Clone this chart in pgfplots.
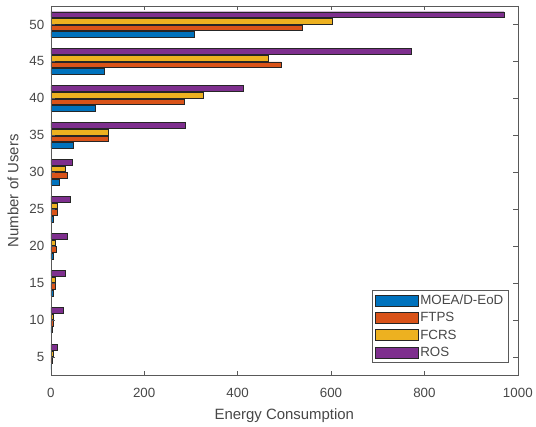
\documentclass[border=0pt]{standalone}
\usepackage{pgfplots}
\pgfplotsset{compat=1.18}
\usepackage{fontspec}
\setmainfont{Liberation Sans}

\definecolor{mblue}{rgb}{0,0.447,0.741}
\definecolor{morange}{rgb}{0.85,0.325,0.098}
\definecolor{myellow}{rgb}{0.929,0.694,0.125}
\definecolor{mpurple}{rgb}{0.494,0.184,0.556}
\definecolor{textgray}{gray}{0.28}
\definecolor{axisgray}{gray}{0.35}

% energy consumption per number of users
\pgfplotstableread{
users moea ftps fcrs ros
5     2    4    4.5  14
10    3    5    5    27
15    6    9    9    32
20    6    12   10   36
25    6    14   13   42
30    19   36   32   46
35    48   124  124  287
40    95   286  327  413
45    114  493  466  771
50    307  539  602  970
}\energy

\pgfplotsset{
  boxlegend/.style={legend image code/.code={%
    \draw[##1,draw=black!85,line width=0.5pt] (0pt,-5.5pt) rectangle (43pt,5.5pt);}},
}

\begin{document}
\begin{tikzpicture}
\begin{axis}[
  scale only axis, width=469pt, height=371pt,
  xbar, bar width=5.6pt,
  xmin=0, xmax=1000, ymin=2.5, ymax=52.5,
  xtick={0,200,...,1000}, ytick={5,10,...,50},
  tick align=inside, major tick length=4.5pt,
  axis line style={draw=axisgray, line width=0.5pt},
  tick style={draw=axisgray, line width=0.5pt},
  axis on top,
  xlabel={Energy Consumption}, ylabel={Number of Users},
  ticklabel style={font=\fontsize{13.4}{15}\selectfont, text=textgray},
  xticklabel style={/pgf/number format/1000 sep={}, yshift=-9pt},
  yticklabel style={xshift=-3pt},
  label style={font=\fontsize{15}{17}\selectfont, text=textgray},
  xlabel style={yshift=-5pt},
  ylabel style={yshift=4pt},
  /pgf/number format/assume math mode=true,
  legend cell align=left,
  legend style={at={(0.98,0.034)}, anchor=south east, draw=axisgray,
    font=\fontsize{13.4}{15}\selectfont, text=textgray, row sep=2.4pt,
    inner xsep=3pt, inner ysep=3pt},
  every axis plot/.append style={draw=black!85, line width=0.5pt},
]
\addplot[fill=mblue, bar shift=-9.95pt, boxlegend] table[x=moea, y=users] {\energy};
\addplot[fill=morange, bar shift=-3.3pt, boxlegend] table[x=ftps, y=users] {\energy};
\addplot[fill=myellow, bar shift=3.3pt, boxlegend] table[x=fcrs, y=users] {\energy};
\addplot[fill=mpurple, bar shift=9.95pt, boxlegend] table[x=ros, y=users] {\energy};
\legend{MOEA/D-EoD, FTPS, FCRS, ROS}
\end{axis}
\useasboundingbox ([shift={(-51pt,-50pt)}]current axis.south west)
  rectangle ([shift={(16pt,6pt)}]current axis.north east);
\end{tikzpicture}
\end{document}
